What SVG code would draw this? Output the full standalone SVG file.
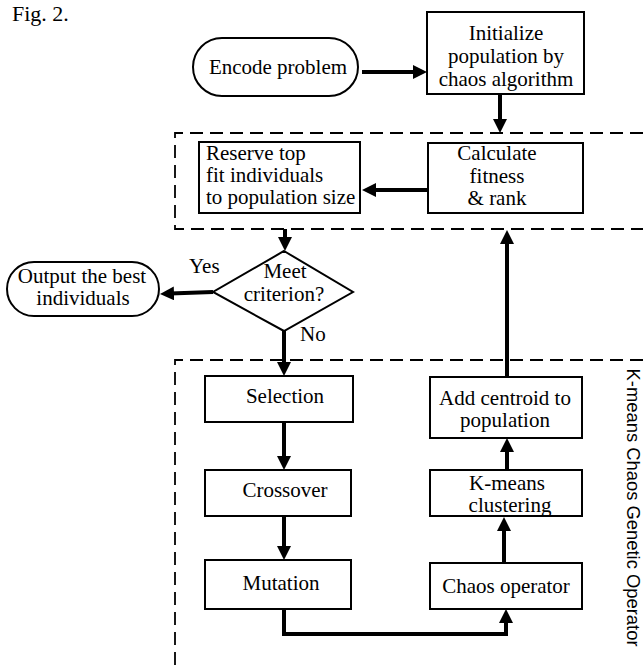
<svg xmlns="http://www.w3.org/2000/svg" width="643" height="668" viewBox="0 0 643 668">
<defs>
<marker id="ah" viewBox="0 0 14 14" refX="4" refY="7" markerWidth="14" markerHeight="14" markerUnits="userSpaceOnUse" orient="auto">
<path d="M0,0 L14,7 L0,14 z" fill="#000"/>
</marker>
</defs>
<style>
.t{font-family:"Liberation Serif","Times New Roman",serif;font-size:21px;fill:#000}
.c{text-anchor:middle}
.box{fill:#fff;stroke:#000;stroke-width:2}
.dash{fill:none;stroke:#000;stroke-width:1.8;stroke-dasharray:13 7}
.ar{fill:none;stroke:#000;stroke-width:4;marker-end:url(#ah)}
</style>
<rect width="643" height="668" fill="#fff"/>
<text class="t" x="12" y="21" style="font-size:22px">Fig. 2.</text>

<g id="regions">
<path class="dash" d="M643,133 H175 V229 H643"/>
<path class="dash" d="M643,360 H175 V668"/>
<text id="operator-label" x="0" y="0" transform="translate(627,368.5) rotate(90)" style="font-family:'Liberation Sans',Arial,sans-serif;font-size:18.4px">K-means Chaos Genetic Operator</text>
</g>

<g id="connectors">
<path class="ar" d="M362,72 H417"/>
<path class="ar" d="M500,94 V123"/>
<path class="ar" d="M428,190 H372"/>
<path class="ar" d="M285,229 V241"/>
<path class="ar" d="M213,292 L170,293.6"/>
<path class="ar" d="M284,331 V366"/>
<path class="ar" d="M284,422 V460"/>
<path class="ar" d="M284,516 V550"/>
<path class="ar" d="M284,609 V634 H506 V619"/>
<path class="ar" d="M504,563 V527"/>
<path class="ar" d="M507,470 V448"/>
<path class="ar" d="M507,377 V240"/>
<text class="t" x="189" y="273">Yes</text>
<text class="t" x="300" y="341">No</text>
</g>

<g id="encode">
<rect class="box" x="193" y="38" width="165" height="58" rx="29" ry="29"/>
<text class="t c" x="278" y="74">Encode problem</text>
</g>

<g id="initialize">
<rect class="box" x="427" y="12" width="157" height="82"/>
<text class="t c" x="506" y="40">Initialize</text>
<text class="t c" x="506" y="63">population by</text>
<text class="t c" x="506" y="86">chaos algorithm</text>
</g>

<g id="calculate">
<rect class="box" x="428" y="143" width="155" height="70"/>
<text class="t c" x="497" y="160">Calculate</text>
<text class="t c" x="497" y="183">fitness</text>
<text class="t c" x="497" y="205">&amp; rank</text>
</g>

<g id="reserve">
<rect class="box" x="199" y="142" width="161" height="71"/>
<text class="t" x="206" y="160">Reserve top</text>
<text class="t" x="206" y="182">fit individuals</text>
<text class="t" x="206" y="204">to population size</text>
</g>

<g id="criterion">
<polygon class="box" points="284,251 353,292 284,331 213,292"/>
<text class="t c" x="285" y="278">Meet</text>
<text class="t c" x="284" y="301">criterion?</text>
</g>

<g id="output">
<rect class="box" x="7" y="262" width="152" height="54" rx="27" ry="27"/>
<text class="t c" x="82" y="283">Output the best</text>
<text class="t c" x="83" y="305">individuals</text>
</g>

<g id="selection">
<rect class="box" x="205" y="376" width="148" height="46"/>
<text class="t c" x="285" y="403">Selection</text>
</g>

<g id="crossover">
<rect class="box" x="205" y="470" width="146" height="46"/>
<text class="t c" x="285" y="497">Crossover</text>
</g>

<g id="mutation">
<rect class="box" x="205" y="560" width="146" height="49"/>
<text class="t c" x="281" y="590">Mutation</text>
</g>

<g id="chaos">
<rect class="box" x="430" y="563" width="152" height="46"/>
<text class="t c" x="506" y="593">Chaos operator</text>
</g>

<g id="kmeans">
<rect class="box" x="430" y="470" width="152" height="46"/>
<text class="t c" x="507" y="490">K-means</text>
<text class="t c" x="510" y="512">clustering</text>
</g>

<g id="centroid">
<rect class="box" x="430" y="377" width="152" height="61"/>
<text class="t c" x="505" y="405">Add centroid to</text>
<text class="t c" x="505" y="427">population</text>
</g>
</svg>
